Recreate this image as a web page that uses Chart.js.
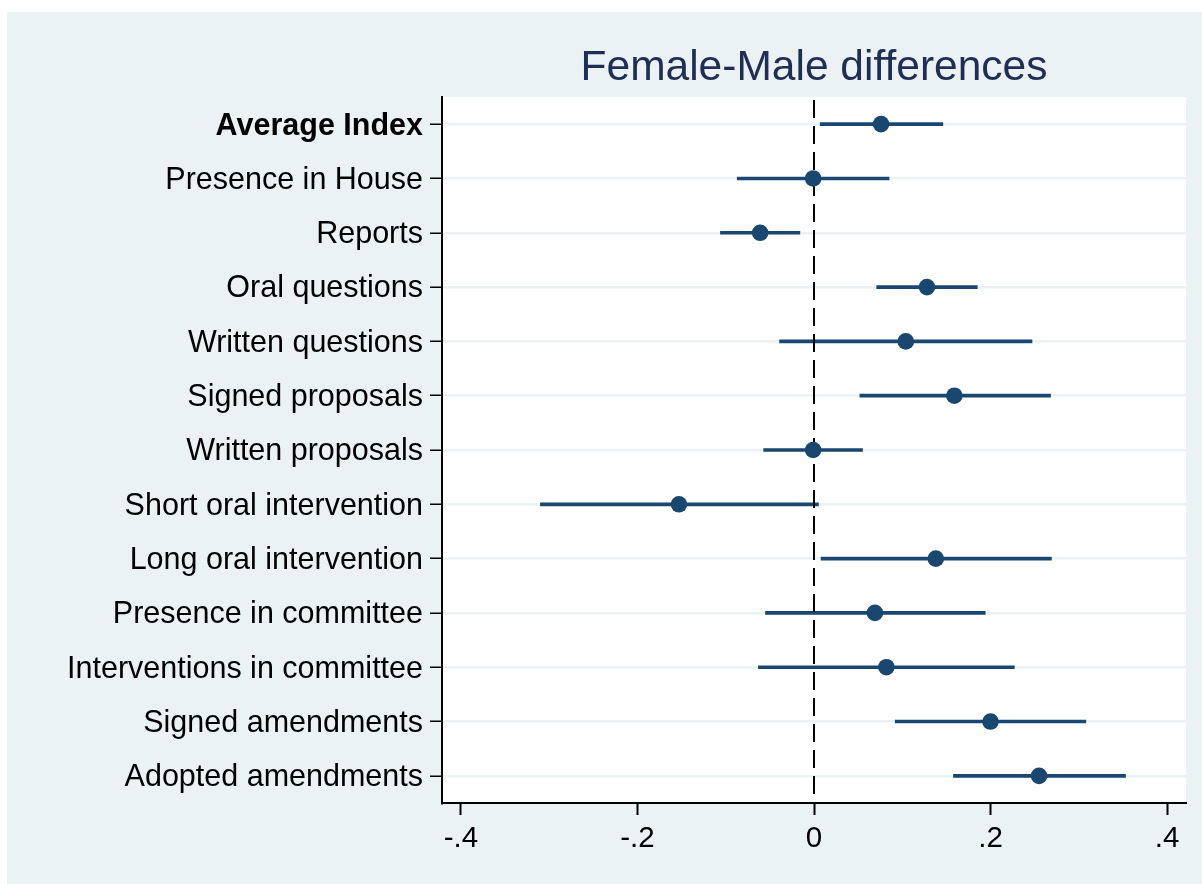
<!DOCTYPE html>
<html>
<head>
<meta charset="utf-8">
<script src="https://cdn.jsdelivr.net/npm/chart.js@4.4.1/dist/chart.umd.min.js"></script>
<style>
  html, body { margin: 0; padding: 0; background: #ffffff; }
  #wrap { width: 1202px; height: 884px; position: relative; }
</style>
</head>
<body>
<div id="wrap"><canvas id="c" width="1202" height="884"></canvas></div>
<script>
// Outcome labels, top to bottom
const categories = [
  'Average Index',
  'Presence in House',
  'Reports',
  'Oral questions',
  'Written questions',
  'Signed proposals',
  'Written proposals',
  'Short oral intervention',
  'Long oral intervention',
  'Presence in committee',
  'Interventions in committee',
  'Signed amendments',
  'Adopted amendments'
];

// Point estimates of the female-male difference
const estimates = [0.076, -0.001, -0.061, 0.128, 0.104, 0.159, -0.001, -0.153, 0.138, 0.069, 0.082, 0.200, 0.255];

// Confidence interval bounds
const ciLower = [0.007, -0.087, -0.106, 0.071, -0.039, 0.052, -0.057, -0.310, 0.008, -0.055, -0.063, 0.092, 0.158];
const ciUpper = [0.146, 0.085, -0.016, 0.185, 0.247, 0.268, 0.055, 0.005, 0.269, 0.194, 0.227, 0.308, 0.353];

// Horizontal axis ticks and their labels
const tickValues = [-0.4, -0.2, 0, 0.2, 0.4];
const tickLabels = ['-.4', '-.2', '0', '.2', '.4'];

const titleText = 'Female-Male differences';

const NAVY = '#1a476f';
const BG = '#eaf2f3';
const FONT = "'Liberation Sans', Arial, Helvetica, sans-serif";

// Page background, plot region and title
const backdrop = {
  id: 'backdrop',
  beforeDraw(chart) {
    const { ctx, chartArea: a } = chart;
    ctx.save();
    ctx.fillStyle = '#ffffff';
    ctx.fillRect(0, 0, chart.width, chart.height);
    ctx.fillStyle = BG;
    ctx.fillRect(7, 12, chart.width - 7, chart.height - 12);
    ctx.fillStyle = '#ffffff';
    ctx.fillRect(a.left, a.top, a.right - a.left, a.bottom - a.top);
    ctx.fillStyle = '#1e2e55';
    ctx.font = '42.5px ' + FONT;
    ctx.textAlign = 'center';
    ctx.textBaseline = 'alphabetic';
    ctx.fillText(titleText, (a.left + a.right) / 2, 80);
    ctx.restore();
  }
};

// Dashed reference line at zero, drawn over the intervals and under the points
const zeroLine = {
  id: 'zeroLine',
  afterDatasetDraw(chart, args) {
    if (args.index !== 1) return;
    const { ctx, chartArea: a } = chart;
    const x = Math.round(chart.scales.x.getPixelForValue(0));
    ctx.save();
    ctx.strokeStyle = '#000000';
    ctx.lineWidth = 2;
    ctx.setLineDash([18, 8]);
    ctx.beginPath();
    ctx.moveTo(x, a.top + 3);
    ctx.lineTo(x, a.bottom);
    ctx.stroke();
    ctx.restore();
  }
};

new Chart(document.getElementById('c'), {
  type: 'bar',
  data: {
    labels: categories,
    datasets: [
      {
        type: 'line',
        label: 'Estimate',
        data: estimates,
        indexAxis: 'y',
        showLine: false,
        pointRadius: 8.3,
        pointHoverRadius: 8.3,
        pointBackgroundColor: NAVY,
        pointBorderColor: NAVY,
        pointBorderWidth: 0
      },
      {
        label: 'CI',
        data: ciLower.map((lo, i) => [lo, ciUpper[i]]),
        indexAxis: 'y',
        backgroundColor: NAVY,
        borderWidth: 0,
        barThickness: 3
      }
    ]
  },
  plugins: [backdrop, zeroLine],
  options: {
    responsive: false,
    animation: false,
    indexAxis: 'y',
    layout: { padding: { top: 97, right: 16, bottom: 0, left: 0 } },
    plugins: {
      legend: { display: false },
      title: { display: false },
      tooltip: { enabled: false }
    },
    scales: {
      x: {
        type: 'linear',
        position: 'bottom',
        min: -0.4215,
        max: 0.4215,
        afterBuildTicks(scale) {
          scale.ticks = tickValues.map(v => ({ value: v }));
        },
        afterFit(scale) { scale.height = 81; },
        grid: {
          drawOnChartArea: false,
          drawTicks: true,
          tickLength: 12,
          tickWidth: 2,
          tickColor: '#000000'
        },
        border: { display: true, color: '#000000', width: 2 },
        ticks: {
          color: '#000000',
          padding: 6,
          font: { family: FONT, size: 29.5 },
          callback: (v) => {
            const i = tickValues.findIndex(t => Math.abs(t - v) < 1e-9);
            return i >= 0 ? tickLabels[i] : '';
          }
        }
      },
      y: {
        type: 'category',
        position: 'left',
        offset: true,
        afterFit(scale) { scale.width = 442; },
        grid: {
          color: BG,
          lineWidth: 2.5,
          offset: false,
          drawTicks: true,
          tickLength: 12,
          tickWidth: 1.5,
          tickColor: '#000000'
        },
        border: { display: true, color: '#000000', width: 2 },
        ticks: {
          color: '#000000',
          padding: 7,
          labelOffset: 2,
          font: (ctx) => ({
            family: FONT,
            size: 30.5,
            weight: ctx.index === 0 ? 'bold' : 'normal'
          })
        }
      }
    }
  }
});
</script>
</body>
</html>
